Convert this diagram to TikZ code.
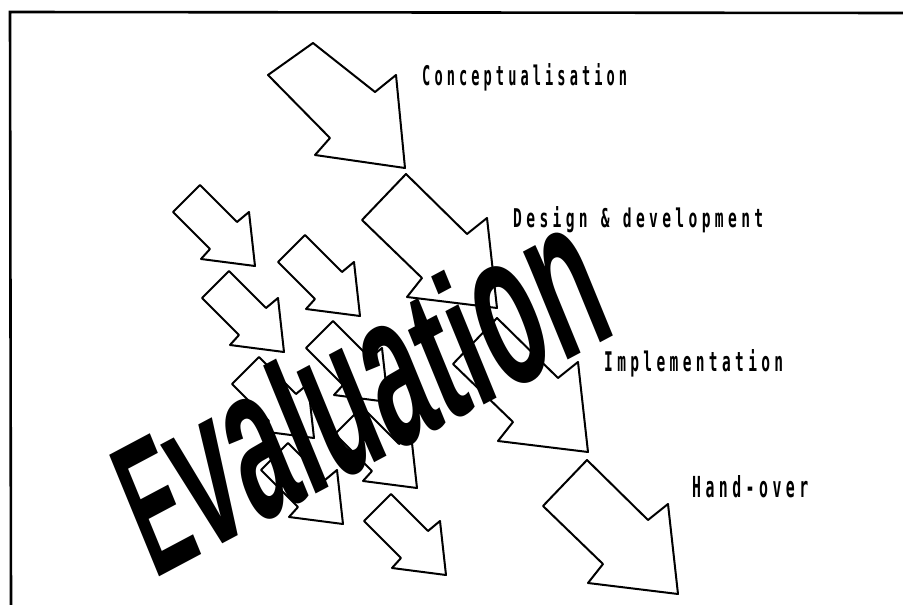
\documentclass[tikz,border=0pt]{standalone}
\usepackage{fontspec}
\setmainfont{Liberation Sans}
\newfontfamily\stagefont[LetterSpace=30]{DejaVu Sans Mono}
\newfontfamily\titlefont{Liberation Sans}
% one glyph of the title: horizontal factor #1, vertical factor #2
\newcommand\evglyph[3]{\scalebox{#1}[#2]{#3}}
\begin{document}
\begin{tikzpicture}[x=1pt,y=-1pt,
  arrowshape/.style={draw=black, fill=white, line width=2pt, line join=round},
  toparrow/.pic={\path[arrowshape] (0,0) -- (62,49) -- (83,32) -- (92,125) -- (2,112) -- (17,95) -- (-45,32) -- cycle;},
  bigarrow/.pic={\path[arrowshape] (0,0) -- (61,60) -- (81,44) -- (91,134) -- (1,123) -- (16,104) -- (-44,46) -- cycle;},
  smallarrow/.pic={\path[arrowshape] (0,0) -- (37,37) -- (49,27) -- (55,81) -- (1,74) -- (10,64) -- (-27,27) -- cycle;},
  stage/.style={anchor=base west, inner sep=0pt, font=\stagefont\bfseries}
]
\useasboundingbox (0,0) rectangle (903,605);

% frame (top and left edges)
\coordinate (fbl) at (11,605);
\coordinate (ftl) at (10,12);
\coordinate (ftr) at (903,13);
\draw[line width=2.6pt] (fbl) -- (ftl) -- (ftr);

% main sequence of stages
\pic at (313,43) {toparrow};
\pic at (406,174) {bigarrow};
\pic at (497,318) {bigarrow};
\pic at (587,460) {bigarrow};

% smaller arrows, two columns
\pic at (200,185) {smallarrow};
\pic at (229,271) {smallarrow};
\pic at (259,357) {smallarrow};
\pic at (288,443) {smallarrow};
\pic at (305,235) {smallarrow};
\pic at (333,321) {smallarrow};
\pic at (362,407) {smallarrow};
\pic at (391,494) {smallarrow};

% big slanted title
\node[anchor=base west, inner sep=0pt, rotate=28, xslant=0.1] (eval) at (154,580)
  {\titlefont\bfseries\fontsize{100pt}{100pt}\selectfont
   \evglyph{0.85}{1.9}{E}\evglyph{1.07}{2.2}{v}\evglyph{1.07}{2.2}{a}%
   \evglyph{1.07}{1.9}{l}\evglyph{1.07}{2.2}{u}\evglyph{1.07}{2.2}{a}%
   \evglyph{1.07}{1.9}{t}\evglyph{1.07}{1.9}{i}\evglyph{1.07}{2.2}{o}%
   \evglyph{1.07}{2.2}{n}};

% stage labels
\node[stage] (concept) at (422,85)  {\resizebox{205pt}{22pt}{Conceptualisation}};
\node[stage] (design)  at (513,227) {\resizebox{250pt}{21pt}{Design \& development}};
\node[stage] (impl)    at (604,371) {\resizebox{179pt}{22pt}{Implementation}};
\node[stage] (hand)    at (692,497) {\resizebox{116pt}{22pt}{Hand-over}};
\end{tikzpicture}
\end{document}
